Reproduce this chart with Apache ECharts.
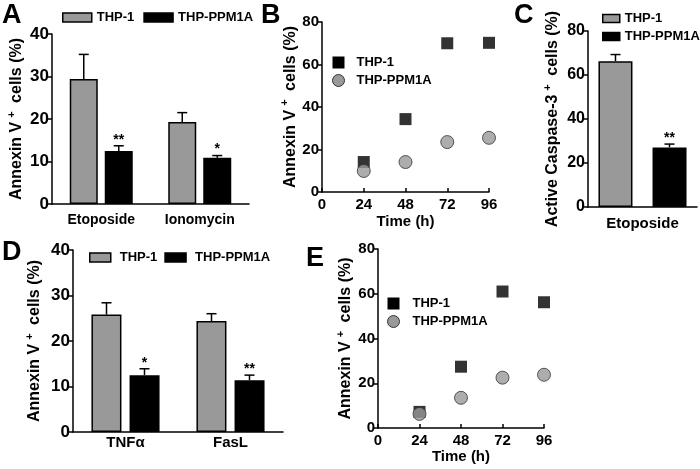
<!DOCTYPE html>
<html><head><meta charset="utf-8">
<script src="https://cdn.jsdelivr.net/npm/echarts@6/dist/echarts.min.js"></script>
<style>html,body{margin:0;padding:0;background:#fff}#c{width:700px;height:469px}</style>
</head><body><div id="c"></div>
<script>
// ---------- data ----------
const seriesNames = ['THP-1', 'THP-PPM1A'];
// Panel A
const aCategories = ['Etoposide', 'Ionomycin'];
const aThp1 = [29.4, 19.3];
const aThp1Err = [35.2, 21.5];
const aPpm = [12.5, 10.9];
const aPpmErr = [13.7, 11.4];
const aPpmStars = ['**', '*'];
// Panel B
const bTimes = [24, 48, 72, 96];
const bThp1 = [14.1, 34.3, 70.0, 70.2];
const bPpm = [9.9, 14.1, 23.5, 25.5];
// Panel C
const cCategories = ['Etoposide'];
const cThp1 = [66.3];
const cThp1Err = [69.3];
const cPpm = [27.1];
const cPpmErr = [28.6];
const cPpmStars = ['**'];
// Panel D
const dCategories = ['TNF\u03b1', 'FasL'];
const dThp1 = [25.8, 24.4];
const dThp1Err = [28.4, 26.0];
const dPpm = [12.5, 11.4];
const dPpmErr = [13.9, 12.5];
const dPpmStars = ['*', '**'];
// Panel E
const eTimes = [24, 48, 72, 96];
const eThp1 = [7.2, 27.4, 61.0, 56.2];
const ePpm = [6.3, 13.5, 22.5, 23.8];
// tick values
const timeTicks = {min: 0, max: 96, interval: 24};
const pctTicks40 = {min: 0, max: 40, interval: 10};
const pctTicks80 = {min: 0, max: 80, interval: 20};

// ---------- styles ----------
const FONT = "'Liberation Sans', Arial, sans-serif";
const GRAY = '#999999';
const BLACK = '#000000';
const axisLine = {show: true, lineStyle: {color: '#000', width: 1.5}};

function yTitle(text) {
  return '{t|' + text[0] + '}{s|+}{t|' + text[1] + '}';
}
function yAxis(grid, ticks, name, gap, fs) {
  return {
    type: 'value', gridIndex: grid, min: ticks.min, max: ticks.max, interval: ticks.interval,
    axisLine: axisLine, axisTick: {show: true, length: 4, lineStyle: {color: '#000', width: 1.5}},
    splitLine: {show: false},
    axisLabel: {color: '#000', fontFamily: FONT, fontWeight: 'bold', fontSize: fs, margin: 3},
    name: name, nameLocation: 'middle', nameGap: gap,
    nameTextStyle: {
      color: '#000', fontFamily: FONT, fontWeight: 'bold', fontSize: 16,
      rich: {
        t: {fontFamily: FONT, fontWeight: 'bold', fontSize: 16, color: '#000', verticalAlign: 'bottom'},
        s: {fontFamily: FONT, fontWeight: 'bold', fontSize: 11, color: '#000', verticalAlign: 'bottom', padding: [0, 4, 8, 4]}
      }
    }
  };
}
function catAxis(grid, cats, fs, margin) {
  return {
    type: 'category', gridIndex: grid, data: cats,
    axisLine: axisLine, axisTick: {show: false},
    axisLabel: {color: '#000', fontFamily: FONT, fontWeight: 'bold', fontSize: fs, margin: margin}
  };
}
function timeAxis(grid, gap) {
  return {
    type: 'value', gridIndex: grid, min: timeTicks.min, max: timeTicks.max, interval: timeTicks.interval,
    axisLine: axisLine, axisTick: {show: true, inside: true, length: 4, lineStyle: {color: '#000', width: 1.5}},
    splitLine: {show: false},
    axisLabel: {color: '#000', fontFamily: FONT, fontWeight: 'bold', fontSize: 15, margin: 5},
    name: 'Time (h)', nameLocation: 'middle', nameGap: gap,
    nameTextStyle: {color: '#000', fontFamily: FONT, fontWeight: 'bold', fontSize: 15}
  };
}
function bar(name, grid, vals, color, w, gap) {
  return {
    type: 'bar', name: name, xAxisIndex: grid, yAxisIndex: grid, data: vals,
    barWidth: w, barGap: gap,
    itemStyle: {color: color, borderColor: '#000', borderWidth: 1.5},
    silent: true, animation: false
  };
}
function errBar(grid, vals, errs, stars, offset) {
  const data = vals.map((v, i) => [i, v, errs[i], stars ? stars[i] : '']);
  return {
    type: 'custom', name: 'err' + grid + offset, xAxisIndex: grid, yAxisIndex: grid,
    data: data, encode: {x: 0, y: [1, 2]}, silent: true, animation: false, z: 3,
    renderItem: function (params, api) {
      const p0 = api.coord([api.value(0), api.value(1)]);
      const p1 = api.coord([api.value(0), api.value(2)]);
      const x = p0[0] + offset;
      const children = [
        {type: 'line', shape: {x1: x, y1: p0[1], x2: x, y2: p1[1]}, style: {stroke: '#000', lineWidth: 1.5}},
        {type: 'line', shape: {x1: x - 5, y1: p1[1], x2: x + 5, y2: p1[1]}, style: {stroke: '#000', lineWidth: 1.5}}
      ];
      const s = data[params.dataIndex][3];
      if (s) {
        children.push({type: 'text', style: {text: s, x: x, y: p1[1] + 1, align: 'center', verticalAlign: 'bottom',
          fill: '#000', font: 'bold 14px ' + FONT}});
      }
      return {type: 'group', children: children};
    }
  };
}
function scatter(name, grid, xs, ys, symbol, color) {
  return {
    type: 'scatter', name: name, xAxisIndex: grid, yAxisIndex: grid,
    data: xs.map((x, i) => [x, ys[i]]),
    symbol: symbol, symbolSize: symbol === 'rect' ? 12 : 13,
    itemStyle: symbol === 'rect' ? {color: BLACK} : {color: GRAY, borderColor: '#333', borderWidth: 1},
    silent: true, animation: false
  };
}
function legendText(padLeft) {
  return {color: '#000', fontFamily: FONT, fontWeight: 'bold', fontSize: 13, padding: [0, 0, 0, padLeft]};
}
const barLegendItems = [
  {name: seriesNames[0], icon: 'rect', itemStyle: {color: GRAY, borderColor: '#000', borderWidth: 1.5}},
  {name: seriesNames[1], icon: 'rect', itemStyle: {color: BLACK, borderColor: '#000', borderWidth: 1.5}}
];
const scatLegendItems = [
  {name: seriesNames[0], icon: 'rect', itemStyle: {color: BLACK, borderWidth: 0}},
  {name: seriesNames[1], icon: 'circle', itemStyle: {color: GRAY, borderColor: '#333', borderWidth: 1}}
];
function letter(t, x, y) {
  return {type: 'text', left: x, top: y, style: {text: t, font: 'bold 27px ' + FONT, fill: '#000'}};
}

const option = {
  animation: false,
  grid: [
    {left: 52, top: 34, width: 197, height: 170},
    {left: 322, top: 22, width: 167, height: 170},
    {left: 588, top: 31, width: 109, height: 176},
    {left: 73, top: 250, width: 210, height: 182},
    {left: 378, top: 249, width: 166, height: 179}
  ],
  xAxis: [
    catAxis(0, aCategories, 14, 9),
    timeAxis(1, 22),
    catAxis(2, cCategories, 15, 9),
    catAxis(3, dCategories, 15, 3),
    timeAxis(4, 21)
  ],
  yAxis: [
    yAxis(0, pctTicks40, yTitle(['Annexin V', ' cells (%)']), 27, 17),
    yAxis(1, pctTicks80, yTitle(['Annexin V', ' cells (%)']), 23, 15),
    yAxis(2, pctTicks80, yTitle(['Active Caspase-3', ' cells (%)']), 27, 16),
    yAxis(3, pctTicks40, yTitle(['Annexin V', ' cells (%)']), 30, 17),
    yAxis(4, pctTicks80, yTitle(['Annexin V', ' cells (%)']), 24, 15)
  ],
  legend: [
    {left: 57, top: 6, itemWidth: 29, itemHeight: 9, itemGap: 9, textStyle: legendText(0), data: barLegendItems, selectedMode: false},
    {orient: 'vertical', left: 327, top: 51, itemWidth: 12, itemHeight: 12, itemGap: 5, textStyle: legendText(7), data: scatLegendItems, selectedMode: false},
    {orient: 'vertical', left: 597, top: 7, itemWidth: 17, itemHeight: 8, itemGap: 5, textStyle: legendText(0), data: barLegendItems, selectedMode: false},
    {left: 84, top: 246, itemWidth: 21, itemHeight: 9, itemGap: 7, textStyle: legendText(4), data: barLegendItems, selectedMode: false},
    {orient: 'vertical', left: 382, top: 292, itemWidth: 12, itemHeight: 12, itemGap: 5, textStyle: legendText(8), data: scatLegendItems, selectedMode: false}
  ],
  graphic: [
    letter('A', 2, 2), letter('B', 261, 2), letter('C', 514, 2),
    letter('D', 2, 239), letter('E', 306, 245)
  ],
  series: [
    bar(seriesNames[0], 0, aThp1, GRAY, 28, '25%'),
    bar(seriesNames[1], 0, aPpm, BLACK, 28, '25%'),
    errBar(0, aThp1, aThp1Err, null, -17.5),
    errBar(0, aPpm, aPpmErr, aPpmStars, 17.5),
    scatter(seriesNames[0], 1, bTimes, bThp1, 'rect'),
    scatter(seriesNames[1], 1, bTimes, bPpm, 'circle'),
    bar(seriesNames[0], 2, cThp1, GRAY, 34, '59%'),
    bar(seriesNames[1], 2, cPpm, BLACK, 34, '59%'),
    errBar(2, cThp1, cThp1Err, null, -27),
    errBar(2, cPpm, cPpmErr, cPpmStars, 27),
    bar(seriesNames[0], 3, dThp1, GRAY, 30, '27%'),
    bar(seriesNames[1], 3, dPpm, BLACK, 30, '27%'),
    errBar(3, dThp1, dThp1Err, null, -19),
    errBar(3, dPpm, dPpmErr, dPpmStars, 19),
    scatter(seriesNames[0], 4, eTimes, eThp1, 'rect'),
    scatter(seriesNames[1], 4, eTimes, ePpm, 'circle')
  ]
};
const chart = echarts.init(document.getElementById('c'), null, {renderer: 'canvas'});
chart.setOption(option);
</script>
</body></html>
